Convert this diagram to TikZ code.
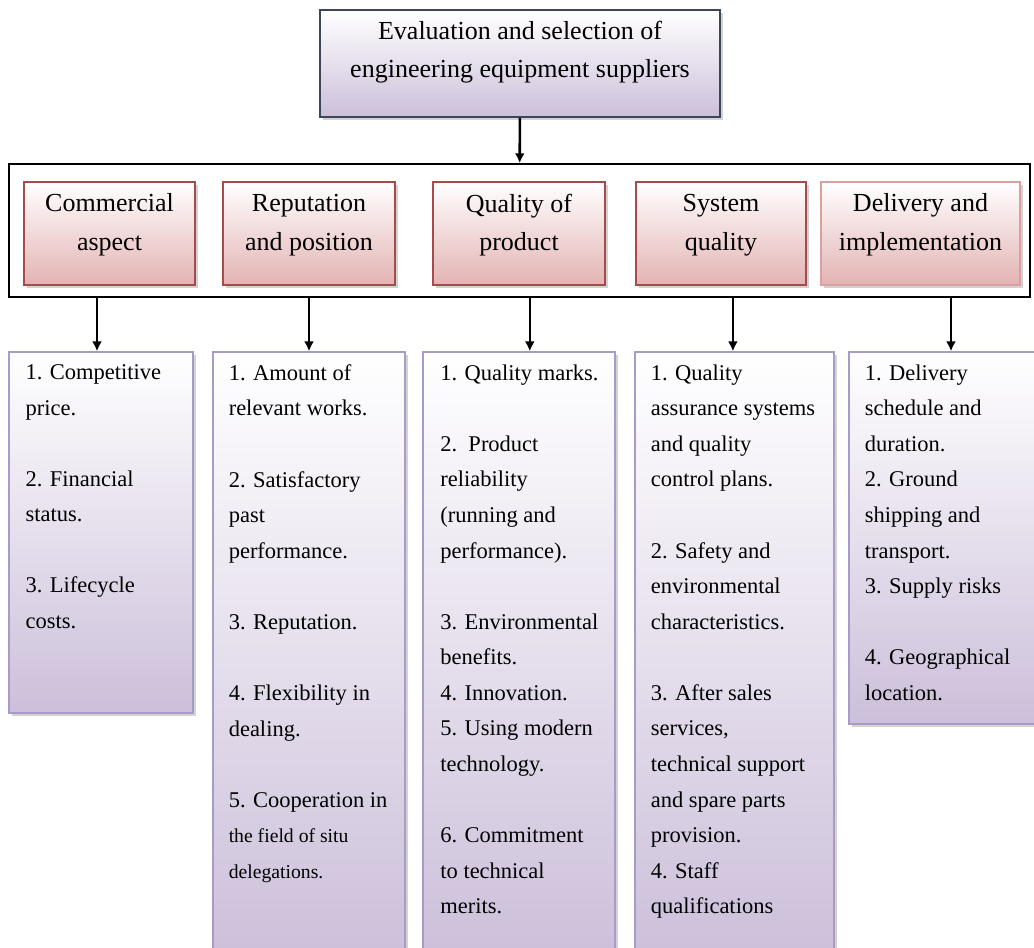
\documentclass[tikz,border=0pt]{standalone}
\usepackage{fontspec}
\setmainfont{Liberation Serif}
\usetikzlibrary{positioning,%
                fit,%
                shadows,%
                arrows.meta}

\newlength\blank
\setlength\blank{25.3pt}
\newcommand\smalltext[1]{{\fontsize{14pt}{25.3pt}\selectfont #1}}

\definecolor{lilac}{HTML}{CCBFDA}
\definecolor{lilacline}{HTML}{A99BC8}
\definecolor{rose}{HTML}{E3B3B3}
\definecolor{roseline}{HTML}{A54B4B}
\definecolor{roselight}{HTML}{D9A0A0}
\definecolor{slate}{HTML}{3C4656}

\tikzset{topbox/.style={
			  rectangle,
			  inner sep       = 0pt,
			  drop shadow     = {opacity=0.35, shadow xshift=2pt, shadow yshift=-2pt},
			  line width      = 1.4pt,
			  draw            = slate,
			  top color       = white,
			  bottom color    = lilac
			}}
\tikzset{framebox/.style={
			  rectangle,
			  inner sep       = 0pt,
			  line width      = 1.2pt,
			  draw            = black,
			  fill            = white
			}}
\tikzset{redbox/.style={
			  rectangle,
			  inner sep       = 0pt,
			  drop shadow     = {opacity=0.35, shadow xshift=2pt, shadow yshift=-2pt},
			  line width      = 1.2pt,
			  draw            = roseline,
			  top color       = white,
			  bottom color    = rose
			}}
\tikzset{listbox/.style={
			  rectangle,
			  inner sep       = 0pt,
			  drop shadow     = {opacity=0.35, shadow xshift=2pt, shadow yshift=-2pt},
			  line width      = 1pt,
			  draw            = lilacline,
			  top color       = white,
			  bottom color    = lilac
			}}
\tikzset{headtext/.style={
			  inner sep       = 0pt,
			  align           = center,
			  font            = \fontsize{18.5pt}{27.5pt}\selectfont
			}}
\tikzset{listtext/.style={
			  inner sep       = 0pt,
			  align           = left,
			  font            = \fontsize{16pt}{25.3pt}\selectfont
			}}

\begin{document}
\begin{tikzpicture}[x=0.025cm, y=-0.025cm, >={Latex[length=7pt,width=7pt]}, line width=1.8pt]

    \useasboundingbox (0,0) rectangle (1034,948);

    \node (goal)    [topbox, fit={(320,10) (720,117)}]     {};
    \node (goaltxt) [headtext, yshift=8pt] at (goal)       {Evaluation and selection of\\engineering equipment suppliers};

    \node (frame)   [framebox, fit={(9,164) (1030,297)}]   {};

    \node (crit1)   [redbox, fit={(24,182) (195,285)}]     {};
    \node (crit2)   [redbox, fit={(223,182) (395,285)}]    {};
    \node (crit3)   [redbox, fit={(433,182) (605,285)}]    {};
    \node (crit4)   [redbox, fit={(636,182) (806,285)}]    {};
    \node (crit5)   [redbox, draw=roselight, fit={(821,182) (1020,285)}] {};

    \node (lab1)    [headtext, yshift=6pt] at (crit1)      {Commercial\\aspect};
    \node (lab2)    [headtext, yshift=6pt] at (crit2)      {Reputation\\and position};
    \node (lab3)    [headtext, yshift=6pt] at (crit3)      {Quality of\\product};
    \node (lab4)    [headtext, yshift=6pt] at (crit4)      {System\\quality};
    \node (lab5)    [headtext, yshift=6pt] at (crit5)      {Delivery and\\implementation};

    \node (col1)    [listbox, fit={(9,352) (193,713)}]     {};
    \node (col2)    [listbox, fit={(213,352) (405,960)}]   {};
    \node (col3)    [listbox, fit={(423,352) (615,960)}]   {};
    \node (col4)    [listbox, fit={(635,352) (834,960)}]   {};
    \node (col5)    [listbox, fit={(849,352) (1045,724)}]  {};

    \node (list1)   [listtext, below right=0.3cm and 0.4cm of col1.north west]
        {1. Competitive\\price.\\[\blank]2. Financial\\status.\\[\blank]3. Lifecycle\\costs.};
    \node (list2)   [listtext, below right=0.3cm and 0.38cm of col2.north west]
        {1. Amount of\\relevant works.\\[\blank]2. Satisfactory\\past\\performance.\\[\blank]3. Reputation.\\[\blank]4. Flexibility in\\dealing.\\[\blank]5. Cooperation in\\\smalltext{the field of situ}\\\smalltext{delegations.}};
    \node (list3)   [listtext, below right=0.3cm and 0.42cm of col3.north west]
        {1. Quality marks.\\[\blank]2.\ \ Product\\reliability\\(running and\\performance).\\[\blank]3. Environmental\\benefits.\\4. Innovation.\\5. Using modern\\technology.\\[\blank]6. Commitment\\to technical\\merits.};
    \node (list4)   [listtext, below right=0.3cm and 0.38cm of col4.north west]
        {1. Quality\\assurance systems\\and quality\\control plans.\\[\blank]2. Safety and\\environmental\\characteristics.\\[\blank]3. After sales\\services,\\technical support\\and spare parts\\provision.\\4. Staff\\qualifications};
    \node (list5)   [listtext, below right=0.3cm and 0.38cm of col5.north west]
        {1. Delivery\\schedule and\\duration.\\2. Ground\\shipping and\\transport.\\3. Supply risks\\[\blank]4. Geographical\\location.};

    \draw [->] (goal)  to (frame);
    \draw [->] ([xshift=-0.1cm]frame.south -| col1.north) to ([xshift=-0.1cm]col1.north);
    \draw [->] (frame.south -| col2.north) to (col2.north);
    \draw [->] ([xshift=0.27cm]frame.south -| col3.north) to ([xshift=0.27cm]col3.north);
    \draw [->] ([xshift=-0.04cm]frame.south -| col4.north) to ([xshift=-0.04cm]col4.north);
    \draw [->] ([xshift=0.1cm]frame.south -| col5.north) to ([xshift=0.1cm]col5.north);

\end{tikzpicture}
\end{document}
